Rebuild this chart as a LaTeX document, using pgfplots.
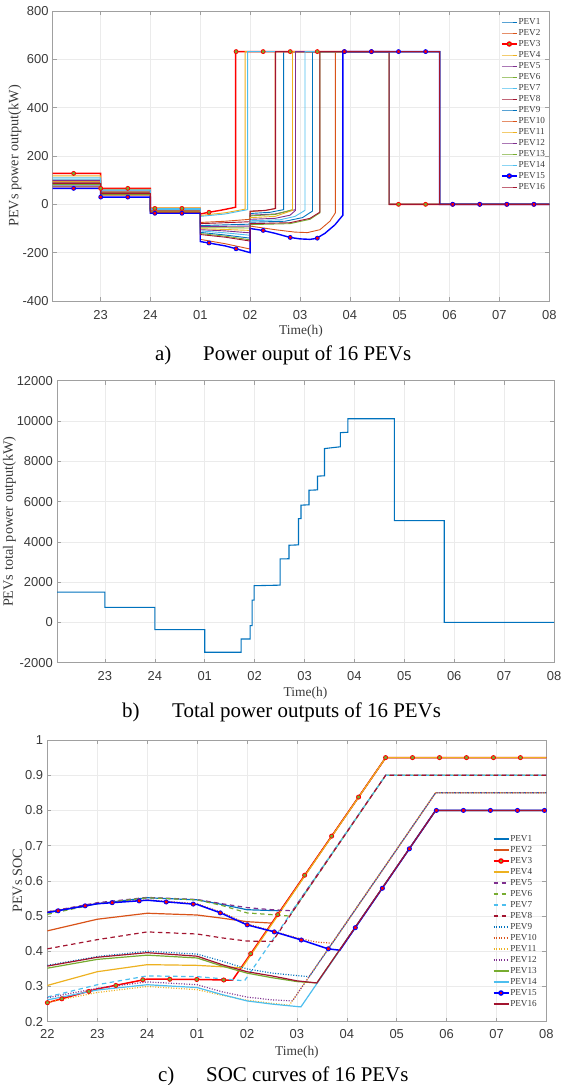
\documentclass[border=0pt]{standalone}
\usepackage{pgfplots}
\pgfplotsset{compat=1.18}
\usepackage{fontspec}
\setmainfont{Liberation Serif}
\newfontfamily\arial{Liberation Sans}
\definecolor{m1}{HTML}{0072BD}
\definecolor{m2}{HTML}{D95319}
\definecolor{m3}{HTML}{EDB120}
\definecolor{m4}{HTML}{7E2F8E}
\definecolor{m5}{HTML}{77AC30}
\definecolor{m6}{HTML}{4DBEEE}
\definecolor{m7}{HTML}{A2142F}
\definecolor{gridc}{HTML}{EBEBEB}
\definecolor{axc}{HTML}{A0A0A0}
\definecolor{txtc}{HTML}{3A3A3A}
\pgfplotsset{
  base/.style={
    scale only axis, anchor=south west,
    scaled x ticks=false, scaled y ticks=false,
    axis line style={axc, line width=0.8bp},
    tick style={axc, line width=0.6bp},
    major tick length=4bp,
    tick align=inside,
    xtick pos=both, ytick pos=both,
    xticklabel pos=lower, yticklabel pos=left,
    grid=major,
    major grid style={gridc, line width=0.6bp},
    xticklabel style={font=\arial\fontsize{13}{13}\selectfont, text=txtc, anchor=north, inner sep=0pt},
    yticklabel style={font=\arial\fontsize{13}{13}\selectfont, text=txtc, anchor=east, inner sep=0pt, xshift=-4bp},
    xlabel style={font=\fontsize{13.5}{13.5}\selectfont, text=txtc, at={(axis description cs:0.5,0)}, anchor=center, yshift=-30.5bp},
    ylabel style={font=\fontsize{14.3}{14.3}\selectfont, text=txtc, anchor=center},
    legend cell align=left,
    legend style={draw=none, fill=none, anchor=north west, font=\fontsize{9.2}{9.2}\selectfont, text=txtc, inner sep=0pt, outer sep=0pt, row sep=0pt, column sep=1bp, nodes={inner sep=0pt, text height=7.5bp, text depth=3.5bp}},
    legend image code/.code={\draw[mark repeat=2,mark phase=2,#1] plot coordinates {(0bp,0bp)(7.5bp,0bp)(15bp,0bp)};},
  },
  la/.style={line width=0.9bp},
  lc/.style={line width=1.2bp},
  dsh/.style={dash pattern=on 4.5bp off 3.5bp},
  dot/.style={dash pattern=on 1bp off 1.6bp},
}
\begin{document}
\begin{tikzpicture}
\useasboundingbox (0,0) rectangle (561bp,1085bp);
% ---------------- panel a ----------------
\begin{axis}[base, at={(52.7bp,784bp)}, width=496.6bp, height=290bp,
  xmin=0.04, xmax=10, ymin=-400, ymax=800,
  xtick={1,2,3,4,5,6,7,8,9,10}, xticklabels={23,24,01,02,03,04,05,06,07,08},
  ytick={-400,-200,0,200,400,600,800}, yticklabels={-400,-200,0,200,400,600,800},
  xticklabel style={yshift=-9.4bp},
  xlabel={Time(h)}, ylabel={PEVs power output(kW)},
  ylabel style={at={(axis description cs:-0.0759,0.5)}},
  legend style={at={(axis description cs:0.903,0.981)}},
]
\addlegendimage{m1,la}\addlegendentry{PEV1}
\addlegendimage{m2,la}\addlegendentry{PEV2}
\addlegendimage{red,line width=1.4bp,mark=*,mark size=2bp,mark options={draw=red,fill=m5,solid}}\addlegendentry{PEV3}
\addlegendimage{m3,la}\addlegendentry{PEV4}
\addlegendimage{m4,la}\addlegendentry{PEV5}
\addlegendimage{m5,la}\addlegendentry{PEV6}
\addlegendimage{m6,la}\addlegendentry{PEV7}
\addlegendimage{m7,la}\addlegendentry{PEV8}
\addlegendimage{m1,la}\addlegendentry{PEV9}
\addlegendimage{m2,la}\addlegendentry{PEV10}
\addlegendimage{m3,la}\addlegendentry{PEV11}
\addlegendimage{m4,la}\addlegendentry{PEV12}
\addlegendimage{m5,la}\addlegendentry{PEV13}
\addlegendimage{m6,la}\addlegendentry{PEV14}
\addlegendimage{blue,line width=1.4bp,mark=*,mark size=2bp,mark options={draw=blue,fill=red,solid}}\addlegendentry{PEV15}
\addlegendimage{m7,la}\addlegendentry{PEV16}
% PEV1
\addplot[m1,la,forget plot] coordinates {(0.04,75)(1,75)(1,45)(2,45)(2,-25)(3,-25)(3,-88)(3.5,-85)(4,-82)(4,-38)(4.4,-33)(4.67,-22)(4.67,632)(6.79,632)(6.79,0)(10,0)};
% PEV2
\addplot[m2,la,forget plot] coordinates {(0.04,100)(1,100)(1,52)(2,52)(2,-20)(3,-20)(3,-75)(3.5,-70)(4,-62)(4,-30)(4.3,-26)(4.5,-18)(4.5,632)(6.79,632)(6.79,0)(10,0)};
% PEV3
\addplot[red,line width=1.4bp,forget plot] coordinates {(0.04,128)(1,128)(1,66)(2,66)(2,-17)(3,-17)(3,-40)(3.17,-33)(3.4,-25)(3.71,-12)(3.71,632)(6.79,632)(6.79,0)(10,0)};
% PEV4
\addplot[m3,la,forget plot] coordinates {(0.04,118)(1,118)(1,62)(2,62)(2,-15)(3,-15)(3,-46)(3.5,-35)(3.9,-20)(3.9,632)(6.79,632)(6.79,0)(10,0)};
% PEV5
\addplot[m4,la,forget plot] coordinates {(0.04,80)(1,80)(1,46)(2,46)(2,-24)(3,-24)(3,-92)(3.5,-91)(4,-90)(4,-45)(4.5,-40)(4.91,-22)(4.91,632)(6.79,632)(6.79,0)(10,0)};
% PEV6
\addplot[m5,la,forget plot] coordinates {(0.04,88)(1,88)(1,50)(2,50)(2,-22)(3,-22)(3,-97)(3.5,-97)(4,-98)(4,-48)(4.5,-42)(4.85,-22)(4.85,632)(6.79,632)(6.79,0)(10,0)};
% PEV7
\addplot[m6,la,forget plot] coordinates {(0.04,110)(1,110)(1,60)(2,60)(2,-18)(3,-18)(3,-50)(3.5,-40)(3.95,-22)(3.95,632)(6.79,632)(6.79,0)(10,0)};
% PEV8
\addplot[m7,la,forget plot] coordinates {(0.04,92)(1,92)(1,50)(2,50)(2,-26)(3,-26)(3,-80)(3.5,-76)(4,-72)(4,-28)(4.3,-25)(4.51,-17)(4.51,632)(6.79,632)(6.79,0)(10,0)};
% PEV9
\addplot[m1,la,forget plot] coordinates {(0.04,85)(1,85)(1,42)(2,42)(2,-28)(3,-28)(3,-116)(3.5,-127)(4,-140)(4,-74)(4.7,-70)(5.05,-55)(5.25,-28)(5.25,632)(7.8,632)(7.8,0)(10,0)};
% PEV10
\addplot[m2,la,forget plot] coordinates {(0.04,72)(1,72)(1,38)(2,38)(2,-30)(3,-30)(3,-145)(3.5,-163)(4,-185)(4,-90)(4.5,-105)(4.9,-115)(5.15,-117)(5.4,-105)(5.6,-70)(5.71,-35)(5.71,632)(7.8,632)(7.8,0)(10,0)};
% PEV11
\addplot[m3,la,forget plot] coordinates {(0.04,95)(1,95)(1,52)(2,52)(2,-27)(3,-27)(3,-101)(3.5,-104)(4,-108)(4,-55)(4.5,-50)(4.85,-25)(4.85,632)(7.8,632)(7.8,0)(10,0)};
% PEV12
\addplot[m4,la,forget plot] coordinates {(0.04,98)(1,98)(1,55)(2,55)(2,-23)(3,-23)(3,-105)(3.5,-110)(4,-118)(4,-62)(4.5,-58)(4.8,-45)(4.91,-25)(4.91,632)(7.8,632)(7.8,0)(10,0)};
% PEV13
\addplot[m5,la,forget plot] coordinates {(0.04,82)(1,82)(1,40)(2,40)(2,-32)(3,-32)(3,-121)(3.5,-132)(4,-147)(4,-84)(4.8,-80)(5.2,-62)(5.4,-35)(5.4,632)(7.8,632)(7.8,0)(10,0)};
% PEV14
\addplot[m6,la,forget plot] coordinates {(0.04,104)(1,104)(1,56)(2,56)(2,-21)(3,-21)(3,-110)(3.5,-118)(4,-128)(4,-68)(4.6,-64)(4.9,-50)(5.1,-25)(5.1,632)(7.8,632)(7.8,0)(10,0)};
% PEV15
\addplot[blue,line width=1.4bp,forget plot] coordinates {(0.04,66)(1,66)(1,30)(2,30)(2,-37)(3,-37)(3,-154)(3.17,-160)(3.5,-172)(3.72,-184)(4,-200)(4,-100)(4.25,-108)(4.5,-120)(4.8,-137)(5.0,-143)(5.2,-145)(5.33,-141)(5.5,-120)(5.7,-85)(5.86,-45)(5.86,632)(7.8,632)(7.8,0)(10,0)};
% PEV16
\addplot[m7,la,forget plot] coordinates {(0.04,86)(1,86)(1,44)(2,44)(2,-33)(3,-33)(3,-125)(3.5,-136)(4,-152)(4,-80)(4.8,-76)(5.2,-58)(5.4,-32)(5.4,632)(7.8,632)(7.8,0)(10,0)};
% markers
\addplot[only marks,mark=*,mark size=2bp,mark options={draw=red,fill=m5,line width=0.8bp},forget plot] coordinates {(0.46,128)(1.003,66)(1.546,66)(2.089,-17)(2.632,-17)(3.175,-33)(3.718,632)(4.261,632)(4.804,632)(5.347,632)(5.89,632)(6.433,632)(6.976,0)(7.519,0)(8.062,0)(8.605,0)(9.148,0)(9.691,0)};
\addplot[only marks,mark=*,mark size=2bp,mark options={draw=blue,fill=red,line width=0.8bp},forget plot] coordinates {(0.46,66)(1.003,30)(1.546,30)(2.089,-37)(2.632,-37)(3.175,-160)(3.718,-184)(4.261,-108)(4.804,-137)(5.347,-140)(5.89,632)(6.433,632)(6.976,632)(7.519,632)(8.062,0)(8.605,0)(9.148,0)(9.691,0)};
\end{axis}
\node[anchor=base west, font=\fontsize{21}{21}\selectfont, inner sep=0pt] at (155bp,724bp) {a)};
\node[anchor=base west, font=\fontsize{21}{21}\selectfont, inner sep=0pt] at (203bp,724bp) {Power ouput of 16 PEVs};
% ---------------- panel b ----------------
\begin{axis}[base, at={(57bp,422.3bp)}, width=497bp, height=282bp,
  xmin=0.04, xmax=10, ymin=-2000, ymax=12000,
  xtick={1,2,3,4,5,6,7,8,9,10}, xticklabels={23,24,01,02,03,04,05,06,07,08},
  ytick={-2000,0,2000,4000,6000,8000,10000,12000}, yticklabels={-2000,0,2000,4000,6000,8000,10000,12000},
  xticklabel style={yshift=-8.3bp},
  xlabel={Time(h)}, ylabel={PEVs total power output(kW)},
  ylabel style={at={(axis description cs:-0.0956,0.5)}},
]
\addplot[m1,line width=1.1bp] coordinates {(0.04,1500)(1,1500)(1,750)(2,750)(2,-360)(3,-360)(3,-1480)(3.73,-1480)(3.73,-826)(3.91,-826)(3.91,-160)(3.95,-160)(3.95,1110)(3.99,1110)(3.99,1822)(4.51,1850)(4.51,3150)(4.69,3160)(4.69,3830)(4.88,3850)(4.88,5150)(4.93,5150)(4.93,5820)(5.09,5840)(5.09,6560)(5.26,6580)(5.26,7260)(5.40,7280)(5.40,8630)(5.72,8720)(5.72,9420)(5.87,9440)(5.87,10112)(6.80,10112)(6.80,5056)(7.80,5056)(7.80,0)(10,0)};
\end{axis}
\node[anchor=base west, font=\fontsize{21}{21}\selectfont, inner sep=0pt] at (122bp,367bp) {b)};
\node[anchor=base west, font=\fontsize{21}{21}\selectfont, inner sep=0pt] at (172bp,367bp) {Total power outputs of 16 PEVs};
% ---------------- panel c ----------------
\begin{axis}[base, at={(47.4bp,63.3bp)}, width=499bp, height=281.7bp,
  xmin=0, xmax=10, ymin=0.2, ymax=1,
  xtick={0,1,2,3,4,5,6,7,8,9,10}, xticklabels={22,23,24,01,02,03,04,05,06,07,08},
  ytick={0.2,0.3,0.4,0.5,0.6,0.7,0.8,0.9,1}, yticklabels={0.2,0.3,0.4,0.5,0.6,0.7,0.8,0.9,1},
  xticklabel style={yshift=-7.7bp},
  xlabel={Time(h)}, ylabel={PEVs SOC},
  ylabel style={at={(axis description cs:-0.060,0.5)}},
  legend style={at={(axis description cs:0.8925,0.668)}},
]
\addlegendimage{m1,lc}\addlegendentry{PEV1}
\addlegendimage{m2,lc}\addlegendentry{PEV2}
\addlegendimage{red,line width=1.5bp,mark=*,mark size=2bp,mark options={draw=red,fill=m5,solid}}\addlegendentry{PEV3}
\addlegendimage{m3,lc}\addlegendentry{PEV4}
\addlegendimage{m4,lc,dsh}\addlegendentry{PEV5}
\addlegendimage{m5,lc,dsh}\addlegendentry{PEV6}
\addlegendimage{m6,lc,dsh}\addlegendentry{PEV7}
\addlegendimage{m7,lc,dsh}\addlegendentry{PEV8}
\addlegendimage{m1,lc,dot}\addlegendentry{PEV9}
\addlegendimage{m2,lc,dot}\addlegendentry{PEV10}
\addlegendimage{m3,lc,dot}\addlegendentry{PEV11}
\addlegendimage{m4,lc,dot}\addlegendentry{PEV12}
\addlegendimage{m5,lc}\addlegendentry{PEV13}
\addlegendimage{m6,lc}\addlegendentry{PEV14}
\addlegendimage{blue,line width=1.5bp,mark=*,mark size=2bp,mark options={draw=blue,fill=red,solid}}\addlegendentry{PEV15}
\addlegendimage{m7,lc}\addlegendentry{PEV16}
\addplot[m1,lc,forget plot] coordinates {(0,0.510)(1,0.535)(2,0.552)(3,0.546)(3.5,0.533)(4,0.518)(4.67,0.515)(6.78,0.95)(10,0.95)};
\addplot[m2,lc,forget plot] coordinates {(0,0.458)(1,0.491)(2,0.508)(3,0.503)(3.5,0.494)(4,0.484)(4.5,0.480)(6.78,0.95)(10,0.95)};
\addplot[red,line width=1.5bp,forget plot] coordinates {(0,0.254)(1,0.293)(2,0.321)(3,0.320)(3.71,0.318)(6.78,0.95)(10,0.95)};
\addplot[m3,lc,forget plot] coordinates {(0,0.303)(1,0.342)(2,0.362)(3,0.360)(3.5,0.356)(3.9,0.353)(6.78,0.95)(10,0.95)};
\addplot[m4,lc,dsh,forget plot] coordinates {(0,0.512)(1,0.538)(2,0.553)(3,0.547)(3.5,0.535)(4,0.524)(4.5,0.518)(4.91,0.515)(6.78,0.90)(10,0.90)};
\addplot[m5,lc,dsh,forget plot] coordinates {(0,0.505)(1,0.535)(2,0.552)(3,0.546)(3.5,0.530)(4,0.509)(4.5,0.504)(4.85,0.500)(6.78,0.90)(10,0.90)};
\addplot[m6,lc,dsh,forget plot] coordinates {(0,0.270)(1,0.305)(2,0.330)(3,0.328)(3.5,0.322)(3.95,0.316)(6.78,0.90)(10,0.90)};
\addplot[m7,lc,dsh,forget plot] coordinates {(0,0.407)(1,0.433)(2,0.455)(3,0.449)(3.5,0.438)(4,0.429)(4.51,0.428)(6.78,0.90)(10,0.90)};
\addplot[m1,lc,dot,forget plot] coordinates {(0,0.360)(1,0.385)(2,0.400)(3,0.392)(3.5,0.372)(4,0.350)(4.5,0.338)(5,0.331)(5.25,0.328)(7.78,0.85)(10,0.85)};
\addplot[m2,lc,dot,forget plot] coordinates {(0,0.512)(1,0.536)(2,0.546)(3,0.535)(3.5,0.510)(4,0.478)(4.5,0.458)(5,0.438)(5.4,0.426)(5.71,0.423)(7.78,0.85)(10,0.85)};
\addplot[m3,lc,dot,forget plot] coordinates {(0,0.255)(1,0.283)(2,0.300)(3,0.291)(3.5,0.275)(4,0.261)(4.5,0.252)(4.85,0.247)(7.78,0.85)(10,0.85)};
\addplot[m4,lc,dot,forget plot] coordinates {(0,0.268)(1,0.295)(2,0.313)(3,0.305)(3.5,0.285)(4,0.270)(4.5,0.262)(4.91,0.259)(7.78,0.85)(10,0.85)};
\addplot[m5,lc,forget plot] coordinates {(0,0.352)(1,0.377)(2,0.389)(3,0.381)(3.5,0.358)(4,0.338)(4.5,0.325)(5,0.314)(5.4,0.310)(7.78,0.80)(10,0.80)};
\addplot[m6,lc,forget plot] coordinates {(0,0.262)(1,0.290)(2,0.305)(3,0.297)(3.5,0.277)(4,0.259)(4.5,0.250)(5.08,0.242)(7.78,0.80)(10,0.80)};
\addplot[blue,line width=1.5bp,forget plot] coordinates {(0,0.510)(1,0.535)(2,0.545)(3,0.533)(3.47,0.509)(4,0.475)(4.55,0.455)(5.09,0.432)(5.62,0.407)(5.86,0.403)(7.78,0.80)(10,0.80)};
\addplot[m7,lc,forget plot] coordinates {(0,0.358)(1,0.383)(2,0.396)(3,0.386)(3.5,0.362)(4,0.342)(4.5,0.330)(5,0.316)(5.4,0.310)(7.78,0.80)(10,0.80)};
\addplot[only marks,mark=*,mark size=2.1bp,mark options={draw=red,fill=m5,line width=0.8bp},forget plot] coordinates {(0,0.254)(0.29,0.265)(0.831,0.286)(1.372,0.303)(1.912,0.319)(2.453,0.3205)(2.993,0.320)(3.534,0.3185)(4.074,0.393)(4.615,0.504)(5.155,0.616)(5.696,0.727)(6.236,0.838)(6.777,0.950)(7.317,0.95)(7.858,0.95)(8.398,0.95)(8.939,0.95)(9.479,0.95)};
\addplot[only marks,mark=*,mark size=2.1bp,mark options={draw=blue,fill=red,line width=0.8bp},forget plot] coordinates {(0.215,0.515)(0.756,0.529)(1.298,0.538)(1.839,0.543)(2.381,0.540)(2.922,0.534)(3.464,0.509)(4.005,0.475)(4.547,0.455)(5.088,0.432)(5.63,0.407)(6.171,0.467)(6.713,0.579)(7.254,0.691)(7.795,0.80)(8.337,0.80)(8.878,0.80)(9.42,0.80)(9.961,0.80)};
\end{axis}
\node[anchor=base west, font=\fontsize{21}{21}\selectfont, inner sep=0pt] at (158bp,4bp) {c)};
\node[anchor=base west, font=\fontsize{21}{21}\selectfont, inner sep=0pt] at (206bp,4bp) {SOC curves of 16 PEVs};
\end{tikzpicture}
\end{document}
